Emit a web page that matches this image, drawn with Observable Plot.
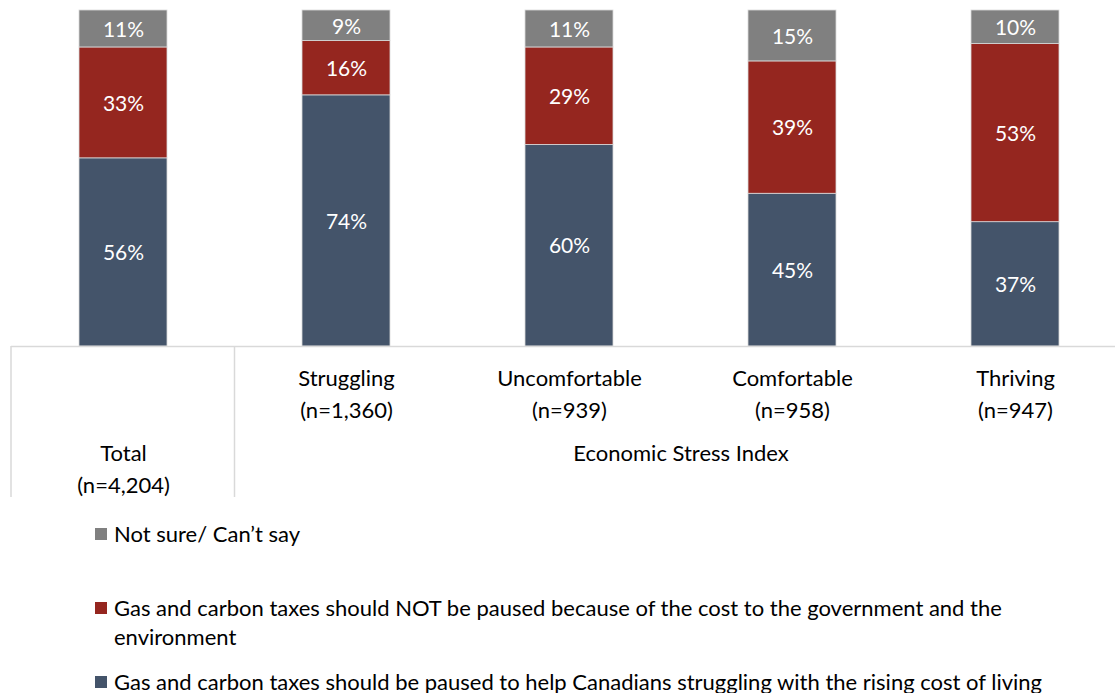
<!DOCTYPE html>
<html>
<head>
<meta charset="utf-8">
<script src="https://cdn.jsdelivr.net/npm/d3@7"></script>
<script src="https://cdn.jsdelivr.net/npm/@observablehq/plot@0.6"></script>
<style>
  html, body { margin: 0; padding: 0; background: #fff; }
  #wrap { position: relative; width: 1115px; height: 693px; font-family: Lato, "Open Sans", sans-serif; color: #000; }
  #chart { position: absolute; left: 0; top: 0; }
  .leg { position: absolute; left: 95px; font-size: 22px; line-height: 29px; white-space: nowrap; }
  .sw { position: absolute; left: 0; width: 12px; height: 12px; top: 9px; }
  .lt { position: absolute; left: 19px; top: 0; }
</style>
</head>
<body>
<div id="wrap"><div id="chart"></div></div>
<script>
// ---- data ----
const categories = ["Total", "Struggling", "Uncomfortable", "Comfortable", "Thriving"];
const sampleSizes = ["(n=4,204)", "(n=1,360)", "(n=939)", "(n=958)", "(n=947)"];
const groupLabel = "Economic Stress Index";
const seriesNames = [
  "Gas and carbon taxes should be paused to help Canadians struggling with the rising cost of living",
  "Gas and carbon taxes should NOT be paused because of the cost to the government and the environment",
  "Not sure/ Can’t say"
];
const pausedValues = [56, 74, 60, 45, 37];
const notPausedValues = [33, 16, 29, 39, 53];
const notSureValues = [11, 9, 11, 15, 10];
const seriesColors = ["#44546A", "#95261F", "#808080"];

// ---- build table ----
const seriesValues = [pausedValues, notPausedValues, notSureValues];
const data = [];
seriesNames.forEach((s, si) => {
  categories.forEach((c, ci) => data.push({cat: c, series: s, value: seriesValues[si][ci]}));
});
const tickData = categories.map((c, i) => ({cat: c, label: c + "\n" + sampleSizes[i]}));

// ---- layout ----
const W = 1115, H = 500;
const xRange = [12, 1126], padIn = 0.6054, padOut = 0.3;
const bandHelper = d3.scaleBand(categories, xRange).paddingInner(padIn).paddingOuter(padOut);
const step = bandHelper.step();
const LBL = 22;

const plot = Plot.plot({
  width: W,
  height: H,
  marginTop: 10,
  marginBottom: 154,
  marginLeft: 11,
  marginRight: 0,
  style: {fontFamily: "Lato, 'Open Sans', sans-serif", background: "#fff", overflow: "visible"},
  x: {type: "band", domain: categories, range: xRange, paddingInner: padIn, paddingOuter: padOut, axis: null},
  y: {domain: [0, 1], axis: null},
  color: {domain: seriesNames, range: seriesColors},
  marks: [
    Plot.barY(data, Plot.stackY({x: "cat", y: "value", fill: "series", z: "series", order: seriesNames, offset: "normalize", stroke: "#d9d9d9", strokeWidth: 0.8})),
    Plot.text(data, Plot.stackY({x: "cat", y: "value", z: "series", order: seriesNames, offset: "normalize", text: d => d.value + "%", fill: "#fff", fontSize: 21, dy: 1})),
    Plot.ruleY([0], {stroke: "#d9d9d9", strokeWidth: 1.5}),
    Plot.text(tickData.filter(d => d.cat !== "Total"), {x: "cat", text: "label", frameAnchor: "bottom", lineAnchor: "middle", dy: 45, lineHeight: 32 / LBL, fontSize: LBL, fill: "#000"}),
    Plot.text(tickData.filter(d => d.cat === "Total"), {x: "cat", text: "label", frameAnchor: "bottom", lineAnchor: "middle", dy: 120, lineHeight: 32 / LBL, fontSize: LBL, fill: "#000"}),
    Plot.text([groupLabel], {x: () => "Uncomfortable", text: d => d, frameAnchor: "bottom", lineAnchor: "middle", dy: 107, dx: step / 2, fontSize: LBL, fill: "#000"})
  ]
});

// table divider lines
const xs = plot.scale("x");
const svg = d3.select(plot);
const baseY = H - 154;
const dividers = [11, xs.apply("Total") + xs.bandwidth + (xs.step - xs.bandwidth) / 2];
dividers.forEach(xp => {
  svg.append("line").attr("x1", xp).attr("x2", xp).attr("y1", baseY).attr("y2", 497)
    .attr("stroke", "#d9d9d9").attr("stroke-width", 1.5);
});
document.getElementById("chart").appendChild(plot);

// legend (top-to-bottom: not sure, not paused, paused)
const wrap = document.getElementById("wrap");
const legendTops = [518.5, 592.5, 666.5];
[2, 1, 0].forEach((si, k) => {
  const item = document.createElement("div");
  item.className = "leg";
  item.style.top = legendTops[k] + "px";
  const sw = document.createElement("div");
  sw.className = "sw";
  sw.style.background = seriesColors[si];
  const t = document.createElement("div");
  t.className = "lt";
  const name = seriesNames[si];
  if (si === 1) {
    const cut = name.lastIndexOf(" environment");
    t.appendChild(document.createTextNode(name.slice(0, cut)));
    t.appendChild(document.createElement("br"));
    t.appendChild(document.createTextNode(name.slice(cut + 1)));
  } else {
    t.textContent = name;
  }
  item.appendChild(sw);
  item.appendChild(t);
  wrap.appendChild(item);
});
</script>
</body>
</html>
